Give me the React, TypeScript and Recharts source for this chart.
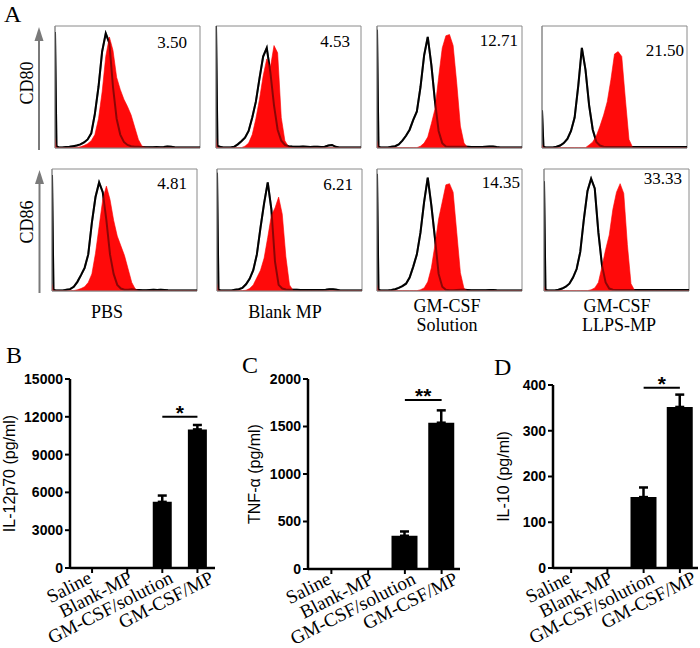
import React from "react";
import {
  ComposedChart,
  Area,
  Bar,
  XAxis,
  YAxis,
  ErrorBar,
  ReferenceArea,
  ReferenceLine,
} from "recharts";

// ---- panel A: flow histograms (x = log channel, 0-100 of the axis; y = % of max count)
const bins = [0, 1, 2.5, 5, 7.5, 10, 12.5, 15, 17.5, 20, 22.5, 25, 27.5, 30, 32.5, 35, 37.5, 40, 42.5, 45, 47.5, 50, 52.5, 55, 57.5, 60, 62.5, 65, 67.5, 70, 72.5, 75, 77.5, 80, 82.5, 85, 87.5, 90, 92.5, 95, 97.5, 100];
const logTicks = [0, 7.5, 11.9, 15.1, 17.5, 19.5, 21.1, 22.6, 23.9, 25, 32.5, 36.9, 40.1, 42.5, 44.5, 46.1, 47.6, 48.9, 50, 57.5, 61.9, 65.1, 67.5, 69.5, 71.1, 72.6, 73.9, 75, 82.5, 86.9, 90.1, 92.5, 94.5, 96.1, 97.6, 98.9, 100];
const countTicks = [0, 8, 16, 24, 32, 40, 48, 56, 64, 72, 80, 88, 96];

const pbsCd80Iso = [95, 1.5, 0.5, 0.5, 0.8, 1, 1.5, 2, 3, 4.5, 7, 12, 28, 50, 79, 94, 86, 50, 24, 11, 5, 2.5, 1.5, 1, 1, 0.8, 0.6, 0.6, 0.6, 0.8, 0.6, 0.8, 1.2, 1, 0.6, 0.5, 0.5, 0.5, 0.4, 0.4, 0.4, 0.4];
const pbsCd80 = [8, 0.5, 0.3, 0.3, 0.3, 0.3, 0.3, 0.5, 1, 2, 3.5, 6, 11, 24, 46, 75, 91, 80, 58, 48, 40, 34, 27, 17, 7, 1.5, 0.5, 0.3, 0.3, 0.3, 0.3, 0.3, 0.3, 0.3, 0.3, 0.3, 0.3, 0.3, 0.3, 0.3, 0.3, 0.3];
const blankCd80Iso = [100, 2, 1, 0.5, 0.5, 0.5, 1, 3, 5.5, 8.5, 14, 25, 38, 57, 75, 82, 62, 35, 15, 6, 2.5, 1.5, 1.2, 1, 1, 1.2, 1, 0.8, 1, 1, 0.8, 1, 2, 2.5, 1, 0.5, 0.5, 0.5, 0.5, 0.5, 0.5, 0.5];
const blankCd80 = [8, 0.5, 0.3, 0.3, 0.3, 0.3, 0.3, 0.3, 0.3, 1.5, 4, 11, 24, 40, 59, 73, 66, 84, 78, 25, 6, 1, 0.4, 0.3, 0.3, 0.3, 0.3, 0.3, 0.3, 0.3, 0.3, 0.3, 0.3, 0.3, 0.3, 0.3, 0.3, 0.3, 0.3, 0.3, 0.3, 0.3];
const solCd80Iso = [97, 1, 0.5, 0.5, 0.5, 1, 1.5, 3, 6, 10, 15, 23, 30, 50, 76, 91, 68, 38, 14, 4, 1.2, 1, 1, 1, 1, 1, 1, 0.8, 0.8, 0.8, 0.8, 1, 1.2, 1.3, 0.8, 0.5, 0.5, 0.5, 0.5, 0.5, 0.5, 0.5];
const solCd80 = [6, 0.5, 0.3, 0.3, 0.3, 0.3, 0.3, 0.3, 0.3, 0.3, 0.3, 0.3, 0.3, 1.5, 4, 9, 20, 32, 58, 82, 92, 93, 84, 53, 18, 4, 0.5, 0.3, 0.3, 0.3, 0.3, 0.3, 0.3, 0.3, 0.3, 0.3, 0.3, 0.3, 0.3, 0.3, 0.3, 0.3];
const mpCd80Iso = [31, 1, 0.5, 0.5, 0.5, 1, 2, 4, 7.5, 14, 25, 51, 82, 64, 35, 15, 5, 2, 1, 0.8, 0.8, 0.8, 0.8, 0.8, 0.8, 0.8, 0.8, 0.8, 0.8, 0.8, 0.8, 0.8, 0.8, 0.8, 0.8, 0.8, 0.8, 0.8, 0.8, 0.8, 0.8, 0.8];
const mpCd80 = [3, 0.3, 0.3, 0.3, 0.3, 0.3, 0.3, 0.3, 0.3, 0.3, 0.3, 0.3, 0.3, 0.3, 2.5, 5, 10, 18, 27, 38, 56, 77, 79, 75, 40, 7, 0.5, 0.3, 0.3, 0.3, 0.3, 0.3, 0.3, 0.3, 0.3, 0.3, 0.3, 0.3, 0.3, 0.3, 0.3, 0.3];

const pbsCd86Iso = [95, 1, 0.5, 0.5, 0.5, 1, 1.5, 3.5, 7.5, 13, 19, 30, 56, 77, 89, 81, 58, 30, 14, 5, 2, 1, 1, 1.5, 1, 0.8, 0.6, 0.6, 0.8, 1, 0.8, 1, 0.8, 0.6, 0.5, 0.5, 0.5, 0.5, 0.5, 0.5, 0.5, 0.5];
const pbsCd86 = [6, 0.3, 0.3, 0.3, 0.3, 0.3, 0.3, 0.3, 1, 2, 3.5, 7, 14, 31, 53, 75, 86, 75, 58, 45, 37, 29, 18, 7, 1.5, 0.3, 0.3, 0.3, 0.3, 0.3, 0.3, 0.3, 0.3, 0.3, 0.3, 0.3, 0.3, 0.3, 0.3, 0.3, 0.3, 0.3];
const blankCd86Iso = [97, 1, 0.5, 0.5, 0.5, 0.5, 1, 1.5, 2.5, 5.5, 10, 17, 30, 52, 72, 89, 67, 24, 5, 2, 1.2, 1, 1, 1, 0.8, 0.8, 0.8, 0.8, 0.8, 0.8, 0.8, 1, 1.5, 1.5, 1, 0.5, 0.5, 0.5, 0.5, 0.5, 0.5, 0.5];
const blankCd86 = [6, 0.3, 0.3, 0.3, 0.3, 0.3, 0.3, 0.3, 0.3, 0.6, 2, 5, 11, 17, 27, 44, 62, 68, 77, 63, 28, 5, 0.5, 0.3, 0.3, 0.3, 0.3, 0.3, 0.3, 0.3, 0.3, 0.3, 0.3, 0.3, 0.3, 0.3, 0.3, 0.3, 0.3, 0.3, 0.3, 0.3];
const solCd86Iso = [96, 1, 0.5, 0.5, 0.5, 0.8, 1.5, 2.5, 4, 6, 11, 20, 30, 48, 73, 93, 70, 43, 14, 3.5, 1, 0.6, 0.6, 0.8, 1, 1, 0.8, 0.6, 0.6, 0.6, 0.6, 0.6, 0.8, 0.8, 0.6, 0.5, 0.5, 0.5, 0.5, 0.5, 0.5, 0.5];
const solCd86 = [5, 0.3, 0.3, 0.3, 0.3, 0.3, 0.3, 0.3, 0.3, 0.3, 0.3, 0.3, 0.3, 1, 2.5, 7.5, 19, 38, 59, 73, 87, 88, 81, 48, 15, 2, 0.3, 0.3, 0.3, 0.3, 0.3, 0.3, 0.3, 0.3, 0.3, 0.3, 0.3, 0.3, 0.3, 0.3, 0.3, 0.3];
const mpCd86Iso = [90, 1, 0.5, 0.5, 0.5, 1, 2, 3.5, 6, 11, 18, 32, 59, 82, 92, 84, 48, 21, 7, 2, 1, 0.8, 0.8, 0.8, 0.8, 0.8, 0.8, 0.8, 0.8, 0.8, 0.8, 0.8, 0.8, 0.8, 0.8, 0.8, 0.8, 0.8, 0.8, 0.8, 0.8, 0.8];
const mpCd86 = [4, 0.3, 0.3, 0.3, 0.3, 0.3, 0.3, 0.3, 0.3, 0.3, 0.3, 0.3, 0.3, 0.3, 1, 2.5, 7, 20, 34, 46, 67, 81, 88, 80, 38, 6, 0.5, 0.3, 0.3, 0.3, 0.3, 0.3, 0.3, 0.3, 0.3, 0.3, 0.3, 0.3, 0.3, 0.3, 0.3, 0.3];

// ---- panels B-D: cytokines
const groups = ["Saline", "Blank-MP", "GM-CSF/solution", "GM-CSF/MP"];
const il12 = [0, 0, 5250, 11000];
const il12Sem = [0, 0, 500, 350];
const tnf = [0, 0, 350, 1540];
const tnfSem = [0, 0, 45, 130];
const il10 = [0, 0, 155, 352];
const il10Sem = [0, 0, 21, 27];

const serif = "'Liberation Serif', 'Times New Roman', serif";
const sans = "'Liberation Sans', Arial, sans-serif";

interface HistProps {
  left: number;
  top: number;
  iso: number[];
  sample: number[];
}

function Histogram({ left, top, iso, sample }: HistProps) {
  const data = bins.map((x, i) => ({ x, iso: iso[i], sample: sample[i] }));
  return (
    <div style={{ position: "absolute", left: left - 3, top: top - 1 }}>
      <ComposedChart width={150} height={127} data={data} margin={{ top: 1, right: 2, bottom: 0, left: 0 }}>
        <XAxis
          dataKey="x"
          type="number"
          domain={[0, 100]}
          ticks={logTicks}
          tick={false}
          tickSize={3}
          height={4}
          axisLine={{ stroke: "#888" }}
          tickLine={{ stroke: "#666" }}
          allowDataOverflow
        />
        <YAxis
          type="number"
          domain={[0, 100]}
          ticks={countTicks}
          tick={false}
          tickSize={2}
          width={3}
          axisLine={{ stroke: "#888" }}
          tickLine={{ stroke: "#666" }}
          allowDataOverflow
        />
        <ReferenceArea x1={0} x2={100} y1={0} y2={100} fill="none" stroke="#8a8a8a" strokeWidth={1} />
        <Area dataKey="iso" type="linear" stroke="#000" strokeWidth={2} fill="none" dot={false} isAnimationActive={false} />
        <Area dataKey="sample" type="linear" stroke="#f00" strokeWidth={0.6} fill="#ff0a0a" fillOpacity={1} dot={false} isAnimationActive={false} />
        <Area dataKey="iso" type="linear" stroke="#000" strokeOpacity={0.45} strokeWidth={2} fill="none" dot={false} isAnimationActive={false} />
      </ComposedChart>
    </div>
  );
}

function GroupTick(props: any) {
  const { x, y, payload } = props;
  const i = groups.indexOf(payload.value);
  const ex = x + 1 + i * 5.5;
  const ey = y + 7;
  return (
    <text x={ex} y={ey} textAnchor="end" transform={`rotate(-27 ${ex} ${ey})`} fontFamily={serif} fontSize={19} fill="#000">
      {payload.value}
    </text>
  );
}

interface CytoProps {
  left: number;
  top: number;
  width: number;
  height: number;
  axisWidth: number;
  plotHeight: number;
  padLeft: number;
  right: number;
  values: number[];
  sem: number[];
  ticks: number[];
  label: string;
  labelOffset: number;
  barSize: number;
  sigY: number;
  stars: string;
}

function CytokineChart(p: CytoProps) {
  const data = groups.map((g, i) => ({ group: g, value: p.values[i], err: [0, p.sem[i]] }));
  const max = p.ticks[p.ticks.length - 1];
  const topMargin = 25;
  const xHeight = p.height - topMargin - p.plotHeight;
  return (
    <div style={{ position: "absolute", left: p.left, top: p.top - topMargin }}>
      <ComposedChart
        width={p.width}
        height={p.height}
        data={data}
        margin={{ top: topMargin, right: p.right, bottom: 0, left: 0 }}
      >
        <XAxis
          dataKey="group"
          padding={{ left: p.padLeft, right: 0 }}
          height={xHeight}
          interval={0}
          tick={<GroupTick />}
          tickSize={5}
          axisLine={{ stroke: "#000", strokeWidth: 2.5 }}
          tickLine={{ stroke: "#000", strokeWidth: 2 }}
        />
        <YAxis
          type="number"
          domain={[0, max]}
          ticks={p.ticks}
          width={p.axisWidth}
          tickSize={5}
          tickMargin={2}
          axisLine={{ stroke: "#000", strokeWidth: 2.5 }}
          tickLine={{ stroke: "#000", strokeWidth: 2 }}
          tick={{ fontFamily: sans, fontSize: 14, fontWeight: 700, fill: "#000" }}
          label={{
            value: p.label,
            angle: -90,
            position: "insideLeft",
            offset: p.labelOffset,
            style: { textAnchor: "middle", fontFamily: sans, fontSize: 16, fill: "#000" },
          }}
        />
        <Bar dataKey="value" fill="#000" barSize={p.barSize} isAnimationActive={false}>
          <ErrorBar dataKey="err" direction="y" width={4.5} stroke="#000" strokeWidth={2.5} />
        </Bar>
        <ReferenceLine
          segment={[
            { x: "GM-CSF/solution", y: p.sigY },
            { x: "GM-CSF/MP", y: p.sigY },
          ]}
          stroke="#000"
          strokeWidth={2}
          label={{ value: p.stars, position: "top", offset: -3, fontFamily: sans, fontSize: 21, fontWeight: 700, fill: "#000" }}
        />
      </ComposedChart>
    </div>
  );
}

export default function App() {
  const row1 = 26;
  const row2 = 169;
  return (
    <div style={{ position: "absolute", left: 0, top: 0, width: 700, height: 648, background: "#fff", overflow: "hidden" }}>
      <Histogram left={55} top={row1} iso={pbsCd80Iso} sample={pbsCd80} />
      <Histogram left={216} top={row1} iso={blankCd80Iso} sample={blankCd80} />
      <Histogram left={377} top={row1} iso={solCd80Iso} sample={solCd80} />
      <Histogram left={542} top={row1} iso={mpCd80Iso} sample={mpCd80} />
      <Histogram left={52} top={row2} iso={pbsCd86Iso} sample={pbsCd86} />
      <Histogram left={217} top={row2} iso={blankCd86Iso} sample={blankCd86} />
      <Histogram left={377} top={row2} iso={solCd86Iso} sample={solCd86} />
      <Histogram left={544} top={row2} iso={mpCd86Iso} sample={mpCd86} />

      <CytokineChart
        left={0}
        top={379}
        width={220}
        height={294}
        axisWidth={70}
        plotHeight={189}
        padLeft={4.5}
        right={5}
        values={il12}
        sem={il12Sem}
        ticks={[0, 3000, 6000, 9000, 12000, 15000]}
        label="IL-12p70 (pg/ml)"
        labelOffset={9}
        barSize={19}
        sigY={12000}
        stars="*"
      />
      <CytokineChart
        left={230}
        top={379}
        width={235}
        height={294}
        axisWidth={78}
        plotHeight={190}
        padLeft={5}
        right={5}
        values={tnf}
        sem={tnfSem}
        ticks={[0, 500, 1000, 1500, 2000]}
        label="TNF-α (pg/ml)"
        labelOffset={24}
        barSize={26}
        sigY={1780}
        stars="**"
      />
      <CytokineChart
        left={460}
        top={385}
        width={240}
        height={288}
        axisWidth={93}
        plotHeight={183}
        padLeft={0}
        right={2}
        values={il10}
        sem={il10Sem}
        ticks={[0, 100, 200, 300, 400]}
        label="IL-10 (pg/ml)"
        labelOffset={43}
        barSize={26}
        sigY={394}
        stars="*"
      />

      <svg width={700} height={648} style={{ position: "absolute", left: 0, top: 0, pointerEvents: "none" }}>
        <g fontFamily={serif} fill="#000">
          <text x={4} y={22} fontSize={24}>A</text>
          <text x={6} y={363} fontSize={24}>B</text>
          <text x={242} y={373} fontSize={24}>C</text>
          <text x={494} y={375} fontSize={24}>D</text>

          <text x={33} y={83} fontSize={18} textAnchor="middle" transform="rotate(-90 33 83)">CD80</text>
          <text x={33} y={222} fontSize={18} textAnchor="middle" transform="rotate(-90 33 222)">CD86</text>

          <g fontSize={17} textAnchor="end">
            <text x={187} y={47.5}>3.50</text>
            <text x={350} y={47}>4.53</text>
            <text x={518} y={46}>12.71</text>
            <text x={684} y={56}>21.50</text>
            <text x={187} y={189}>4.81</text>
            <text x={353} y={190}>6.21</text>
            <text x={520} y={188}>14.35</text>
            <text x={682} y={184}>33.33</text>
          </g>

          <g fontSize={18} textAnchor="middle">
            <text x={107} y={318}>PBS</text>
            <text x={285} y={318}>Blank MP</text>
            <text x={447} y={312}>GM-CSF</text>
            <text x={447} y={331}>Solution</text>
            <text x={617} y={312}>GM-CSF</text>
            <text x={619} y={331}>LLPS-MP</text>
          </g>
        </g>
        <g fill="#7a7a7a" stroke="#7a7a7a">
          <line x1={39} y1={150} x2={39} y2={38} strokeWidth={2} />
          <polygon points="39,27 34.5,41 43.5,41" stroke="none" />
          <line x1={39.5} y1={293} x2={39.5} y2={181} strokeWidth={2} />
          <polygon points="39.5,170 35,184 44,184" stroke="none" />
        </g>
      </svg>
    </div>
  );
}
